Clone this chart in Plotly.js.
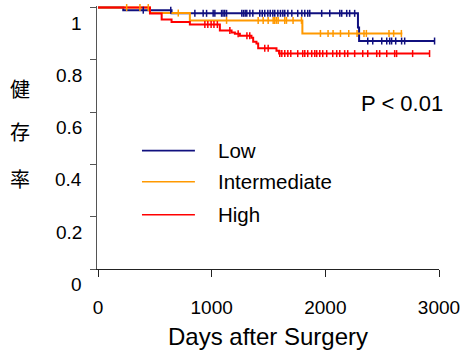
<!DOCTYPE html>
<html>
<head>
<meta charset="utf-8">
<script src="https://cdn.plot.ly/plotly-3.0.1.min.js"></script>
<style>html,body{margin:0;padding:0;background:#fff;}#chart{width:465px;height:351px;}</style>
</head>
<body>
<div id="chart"></div>
<script>
// ---- data ----
const seriesNames = ["Low", "Intermediate", "High"];
const seriesColors = ["#10107f", "#ff9900", "#ff0000"];

const lowTimes = [0, 222, 647, 2287, 2297];
const lowSurv  = [1, 0.990, 0.978, 0.924, 0.872];
const lowEnd = 2961;
const lowCensor = [398, 640, 852, 925, 955, 1013, 1028, 1087, 1100, 1115, 1131, 1265, 1280, 1295, 1309, 1336, 1362, 1423, 1445, 1467, 1494, 1515, 1538, 1555, 1582, 1605, 1626, 1643, 1670, 1705, 1757, 1793, 1819, 1845, 1863, 1968, 2039, 2127, 2144, 2188, 2214, 2258, 2373, 2417, 2496, 2540, 2566, 2583, 2619, 2671, 2698, 2961];

const interTimes = [0, 457, 808, 1798];
const interSurv  = [1, 0.979, 0.951, 0.901];
const interEnd = 2677;
const interCensor = [252, 369, 442, 706, 1131, 1409, 1453, 1497, 1541, 1555, 1570, 1585, 1643, 1658, 1716, 1790, 1957, 2024, 2068, 2133, 2206, 2279, 2340, 2361, 2560, 2601, 2669];

const highTimes = [0, 457, 560, 647, 808, 1072, 1175, 1204, 1248, 1350, 1365, 1394, 1409, 1570, 1593];
const highSurv  = [1, 0.977, 0.954, 0.945, 0.935, 0.912, 0.905, 0.900, 0.892, 0.885, 0.869, 0.863, 0.844, 0.835, 0.824];
const highEnd = 2917;
const highCensor = [940, 966, 995, 1020, 1050, 1160, 1233, 1310, 1335, 1467, 1497, 1599, 1617, 1643, 1670, 1696, 1757, 1801, 1819, 1845, 1880, 1907, 1924, 1951, 1977, 2012, 2065, 2100, 2127, 2170, 2197, 2258, 2329, 2373, 2452, 2478, 2540, 2610, 2627, 2768, 2917];

const xTickVals = [0, 1000, 2000, 3000];
const xTickText = ["0", "1000", "2000", "3000"];
const yTickVals = [0, 0.2, 0.4, 0.6, 0.8, 1];
const yTickText = ["0", "0.2", "0.4", "0.6", "0.8", "1"];
const yTitleChars = ["健", "存", "率"];
const xTitle = "Days after Surgery";
const pText = "P < 0.01";

// ---- build ----
const FONT = 'Arial, "Liberation Sans", sans-serif';
const groups = [
  {t: lowTimes, s: lowSurv, end: lowEnd, c: lowCensor},
  {t: interTimes, s: interSurv, end: interEnd, c: interCensor},
  {t: highTimes, s: highSurv, end: highEnd, c: highCensor}
];
function survAt(g, x) {
  let v = g.s[0];
  for (let i = 0; i < g.t.length; i++) if (g.t[i] <= x) v = g.s[i];
  return v;
}
const traces = [];
groups.forEach((g, i) => {
  traces.push({
    type: 'scatter', mode: 'lines', name: seriesNames[i],
    x: g.t.concat([g.end]), y: g.s.concat([g.s[g.s.length - 1]]),
    line: {shape: 'hv', color: seriesColors[i], width: 2},
    showlegend: false, hoverinfo: 'skip'
  });
});
groups.forEach((g, i) => {
  traces.push({
    type: 'scatter', mode: 'markers', name: seriesNames[i] + ' censored',
    x: g.c, y: g.c.map(x => survAt(g, x)),
    marker: {symbol: 'line-ns', size: 5, line: {width: 1.5, color: seriesColors[i]}, color: seriesColors[i]},
    showlegend: false, hoverinfo: 'skip', cliponaxis: false
  });
});

const annotations = [];
yTickVals.forEach((v, i) => {
  annotations.push({xref: 'paper', yref: 'y', x: 0, y: v, xanchor: 'right', yanchor: 'middle',
    xshift: -13, yshift: -15.5, text: yTickText[i], showarrow: false,
    font: {family: FONT, size: 19, color: '#000'}});
});
const charY = [0.688, 0.521, 0.343];
yTitleChars.forEach((ch, i) => {
  annotations.push({xref: 'paper', yref: 'paper', x: -0.225, y: charY[i], xanchor: 'center', yanchor: 'middle',
    text: ch, showarrow: false, font: {family: '"Noto Sans CJK JP", "Noto Sans CJK SC", sans-serif', size: 20, color: '#000'}});
});
annotations.push({xref: 'paper', yref: 'paper', x: 0.891, y: 0.631, xanchor: 'center', yanchor: 'middle',
  text: pText, showarrow: false, font: {family: FONT, size: 22, color: '#000'}});

const shapes = [];
const legY = [0.450, 0.332, 0.206];
seriesNames.forEach((n, i) => {
  shapes.push({type: 'line', xref: 'paper', yref: 'paper', x0: 0.1315, x1: 0.2863, y0: legY[i], y1: legY[i],
    line: {color: seriesColors[i], width: 1.6}});
  annotations.push({xref: 'paper', yref: 'paper', x: 0.347, y: legY[i], xanchor: 'left', yanchor: 'middle',
    text: n, showarrow: false, font: {family: FONT, size: 20.5, color: '#000'}});
});

const layout = {
  width: 465, height: 351,
  margin: {l: 97, r: 25.7, t: 5.7, b: 81.7, pad: 0},
  paper_bgcolor: '#fff', plot_bgcolor: '#fff',
  showlegend: false,
  font: {family: FONT, color: '#000'},
  xaxis: {
    range: [-9, 3000], tickvals: xTickVals, ticktext: xTickText,
    ticks: 'outside', ticklen: 7, tickwidth: 1, tickcolor: '#222',
    showline: true, linecolor: '#222', linewidth: 1,
    showgrid: false, zeroline: false,
    tickfont: {family: FONT, size: 19, color: '#000'},
    ticklabelstandoff: 14,
    title: {text: xTitle, font: {family: FONT, size: 24, color: '#000'}, standoff: 11}
  },
  yaxis: {
    range: [0, 1.006], tickvals: yTickVals, showticklabels: false,
    ticks: 'outside', ticklen: 6, tickwidth: 1, tickcolor: '#555',
    showline: true, linecolor: '#555', linewidth: 1,
    showgrid: false, zeroline: false
  },
  annotations: annotations,
  shapes: shapes
};
Plotly.newPlot('chart', traces, layout, {staticPlot: true, displayModeBar: false});
</script>
</body>
</html>
